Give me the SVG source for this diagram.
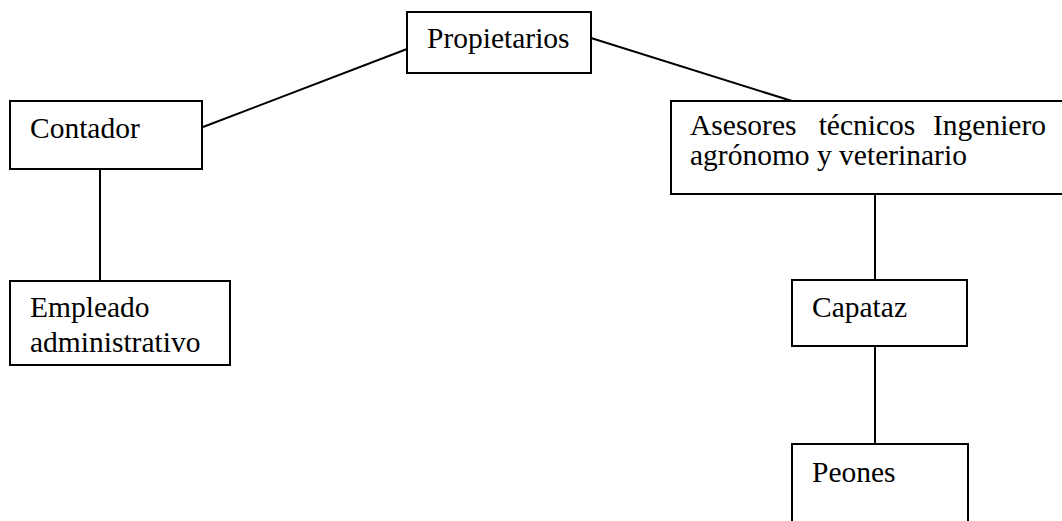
<svg xmlns="http://www.w3.org/2000/svg" width="1062" height="521" viewBox="0 0 1062 521">
<style>
.box{fill:#fff;stroke:#000;stroke-width:2}
.lbl{font-family:"Liberation Serif","Times New Roman",serif;font-size:29.5px;fill:#000}
.con line{stroke:#000;stroke-width:2}
</style>
<rect width="1062" height="521" fill="#fff"/>
<g class="con" id="connectors">
<line x1="203" y1="127" x2="407" y2="49"/>
<line x1="591" y1="38" x2="792" y2="101"/>
<line x1="100" y1="169" x2="100" y2="281"/>
<line x1="875" y1="194" x2="875" y2="280"/>
<line x1="875" y1="346" x2="875" y2="444"/>
</g>
<g id="propietarios"><rect class="box" x="407" y="12" width="184" height="61"/><text class="lbl" x="427" y="48">Propietarios</text></g>
<g id="contador"><rect class="box" x="10" y="101" width="192" height="68"/><text class="lbl" x="30" y="138">Contador</text></g>
<g id="empleado"><rect class="box" x="10" y="281" width="220" height="84"/><text class="lbl" x="30" y="317">Empleado</text><text class="lbl" x="30" y="352">administrativo</text></g>
<g id="asesores"><rect class="box" x="671" y="101" width="395" height="93"/><text class="lbl" x="690" y="135">Asesores</text><text class="lbl" x="867" y="135" text-anchor="middle">técnicos</text><text class="lbl" x="1046" y="135" text-anchor="end">Ingeniero</text><text class="lbl" x="690" y="165">agrónomo y veterinario</text></g>
<g id="capataz"><rect class="box" x="792" y="280" width="175" height="66"/><text class="lbl" x="812" y="317">Capataz</text></g>
<g id="peones"><rect class="box" x="792" y="444" width="176" height="90"/><text class="lbl" x="812" y="482">Peones</text></g>
</svg>
